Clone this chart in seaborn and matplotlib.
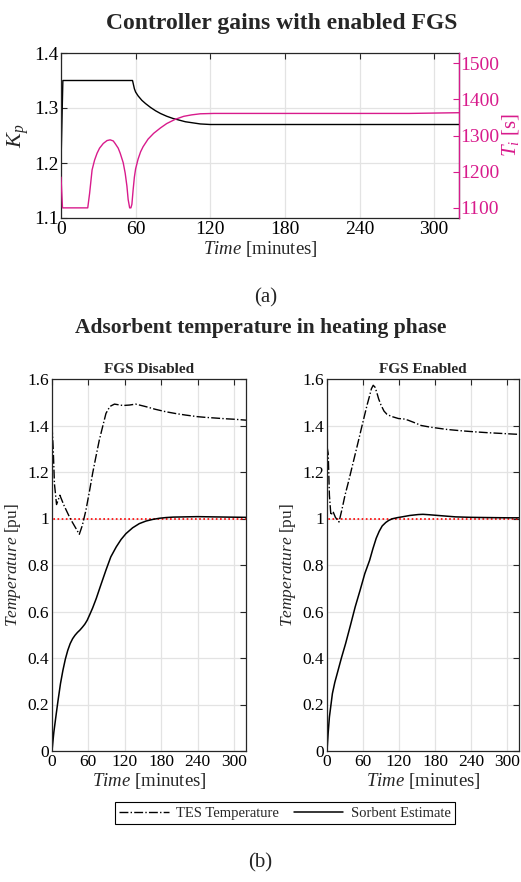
import numpy as np
import pandas as pd
import matplotlib
matplotlib.use('Agg')
from matplotlib import pyplot as plt
import seaborn as sns

# ---- datos ----
# (a) ganancias del controlador
kp_t = [0, 1.5, 10, 30, 50, 57.5, 58, 59, 60, 62, 65, 68, 72, 76, 80, 85, 90, 95, 100, 106, 112, 120, 200, 320]
kp_v = [1.20, 1.35, 1.35, 1.35, 1.35, 1.35, 1.345, 1.335, 1.329, 1.322, 1.314, 1.308, 1.301, 1.295, 1.29, 1.285,
        1.281, 1.278, 1.275, 1.273, 1.271, 1.27, 1.27, 1.27]

ti_t = [0, 1.2, 10, 21.5, 23, 25, 27, 29, 31, 34, 37, 39.5, 42, 43.5, 46, 47.6, 50, 51.6, 53, 54, 55.2, 56.2,
        57, 58, 59, 60, 62, 64, 66, 70, 74.5, 80, 85, 92, 98.7, 105, 112, 123, 200, 280, 300, 320]
ti_v = [1185, 1100, 1100, 1100, 1140, 1205, 1232, 1251, 1265, 1278, 1286, 1288, 1285, 1278, 1265, 1251, 1225,
        1196, 1160, 1123, 1100, 1100, 1110, 1150, 1185, 1208, 1235, 1255, 1269, 1290, 1306, 1321, 1333, 1345,
        1353, 1357, 1360, 1361, 1361, 1361, 1362, 1363]

# (b) temperatura del adsorbente
dis_tes_t = [0, 2, 4, 7.5, 13, 20, 30, 40, 45, 50, 56, 62, 67, 72, 78, 84, 89, 94, 97, 103, 110, 117, 128, 138,
             155, 170, 188, 205, 220, 240, 253, 270, 286, 300, 320]
dis_tes_v = [1.40, 1.30, 1.15, 1.06, 1.10, 1.055, 1.0, 0.955, 0.932, 0.97, 1.036, 1.12, 1.194, 1.26, 1.337, 1.40,
             1.452, 1.475, 1.484, 1.492, 1.489, 1.486, 1.488, 1.492, 1.481, 1.47, 1.459, 1.451, 1.445, 1.438,
             1.435, 1.432, 1.429, 1.427, 1.423]

dis_sorb_t = [0, 3, 7, 10, 14, 18, 22, 26, 30, 34, 38, 42, 46, 50, 54, 58, 62, 67, 73, 80, 89, 97, 106, 114,
              122, 133, 144, 155, 166, 177, 188, 200, 220, 240, 264, 290, 320]
dis_sorb_v = [0.0, 0.08, 0.16, 0.218, 0.29, 0.347, 0.395, 0.433, 0.462, 0.483, 0.498, 0.51, 0.52, 0.532, 0.545,
              0.562, 0.585, 0.615, 0.656, 0.71, 0.778, 0.835, 0.878, 0.91, 0.935, 0.96, 0.978, 0.989, 0.996,
              1.001, 1.004, 1.006, 1.007, 1.008, 1.007, 1.006, 1.005]

en_tes_t = [0, 2, 4, 6.5, 10, 14, 20, 25, 30, 36, 44, 52, 58, 63, 67, 71, 74, 77, 80, 83, 86, 90, 95, 100, 103,
            110, 119, 128, 135, 146, 157, 172, 186, 200, 225, 245, 268, 290, 311, 320]
en_tes_v = [1.31, 1.28, 1.10, 1.014, 1.03, 1.005, 0.985, 1.04, 1.10, 1.16, 1.245, 1.33, 1.395, 1.448, 1.49,
            1.528, 1.558, 1.573, 1.565, 1.542, 1.515, 1.488, 1.462, 1.448, 1.444, 1.437, 1.43, 1.428, 1.423,
            1.412, 1.40, 1.393, 1.388, 1.383, 1.377, 1.373, 1.369, 1.366, 1.363, 1.362]

en_sorb_t = [0, 2, 4, 9, 13, 17, 24, 31, 39, 47, 55, 63, 71, 76.5, 82, 87, 92, 98, 103, 109, 118, 125, 138, 152,
             160, 171, 190, 214, 240, 268, 300, 320]
en_sorb_v = [0.0, 0.08, 0.146, 0.247, 0.295, 0.333, 0.40, 0.462, 0.54, 0.62, 0.69, 0.763, 0.82, 0.87, 0.915,
             0.945, 0.968, 0.983, 0.992, 0.999, 1.004, 1.007, 1.013, 1.017, 1.018, 1.016, 1.012, 1.007, 1.005,
             1.004, 1.003, 1.003]

ref_t = [0, 0, 320]
ref_v = [0, 1, 1]

x_ticks = [0, 60, 120, 180, 240, 300]
magenta = '#D81B8C'
grid_col = '#e3e3e3'

sns.set_style('white')
plt.rcParams['font.family'] = ['Liberation Serif', 'DejaVu Serif']
plt.rcParams['mathtext.fontset'] = 'custom'
plt.rcParams['mathtext.rm'] = 'Liberation Serif'
plt.rcParams['mathtext.it'] = 'Liberation Serif:italic'
plt.rcParams['mathtext.bf'] = 'Liberation Serif:bold'


def style_axes(ax, ylim, yticks, yticklabels, fs):
    ax.set_xlim(0, 320)
    ax.set_ylim(*ylim)
    ax.set_xticks(x_ticks)
    ax.set_yticks(yticks)
    ax.set_yticklabels(yticklabels)
    ax.grid(True, color=grid_col, lw=0.9)
    ax.set_axisbelow(True)
    for s in ax.spines.values():
        s.set_visible(True)
        s.set_color('#262626')
        s.set_linewidth(0.9)
    ax.tick_params(direction='in', length=4, width=0.8, labelsize=fs, pad=2,
                   top=True, right=True, colors='#262626', labelcolor='black')
    ax.set_xlabel(r'$\mathit{Time}$ [minutes]', fontsize=13.5, labelpad=1)


fig = plt.figure(figsize=(5.21, 8.82), dpi=100)

# ---- (a) ----
ax1 = fig.add_axes([61 / 521, 1 - 218 / 882, 398 / 521, 165 / 882])
df_kp = pd.DataFrame({'t': kp_t, 'kp': kp_v})
sns.lineplot(data=df_kp, x='t', y='kp', ax=ax1, color='black', lw=1.0, estimator=None, sort=False)
style_axes(ax1, (1.1, 1.4), [1.1, 1.2, 1.3, 1.4], ['1.1', '1.2', '1.3', '1.4'], 14)
ax1.tick_params(right=False)
ax1.set_ylabel(r'$K_p$', fontsize=16, labelpad=2)

ax2 = ax1.twinx()
df_ti = pd.DataFrame({'t': ti_t, 'ti': ti_v})
sns.lineplot(data=df_ti, x='t', y='ti', ax=ax2, color=magenta, lw=1.0, estimator=None, sort=False)
ax2.set_ylim(1072, 1528)
ax2.set_yticks([1100, 1200, 1300, 1400, 1500])
ax2.set_xlim(0, 320)
ax2.tick_params(axis='y', direction='in', length=4, width=0.8, labelsize=14, pad=1,
                colors=magenta, labelcolor=magenta)
for s in ['top', 'left', 'bottom']:
    ax2.spines[s].set_visible(False)
ax2.spines['right'].set_color(magenta)
ax2.spines['right'].set_linewidth(0.9)
ax2.set_ylabel(r'$T_i$ [s]', fontsize=15, color=magenta, labelpad=0)
ax2.yaxis.set_label_position('right')
ax2.set_xlabel('')

fig.text(282 / 521, 1 - 23 / 882, 'Controller gains with enabled FGS', ha='center', va='center',
         fontsize=17, fontweight='bold')
fig.text(266 / 521, 1 - 298 / 882, '(a)', ha='center', va='center', fontsize=15)

# ---- (b) ----
fig.text(261 / 521, 1 - 328 / 882, 'Adsorbent temperature in heating phase', ha='center', va='center',
         fontsize=15.5, fontweight='bold')

panels = [
    ([52 / 521, 131 / 882, 194 / 521, 372 / 882], 'FGS Disabled', dis_tes_t, dis_tes_v, dis_sorb_t, dis_sorb_v),
    ([327 / 521, 131 / 882, 192 / 521, 372 / 882], 'FGS Enabled', en_tes_t, en_tes_v, en_sorb_t, en_sorb_v),
]
for pos, title, tt, tv, st, sv in panels:
    ax = fig.add_axes(pos)
    sns.lineplot(x=ref_t, y=ref_v, ax=ax, color='red', lw=1.2, linestyle=(0, (1, 1.5)),
                 estimator=None, sort=False)
    sns.lineplot(x=tt, y=tv, ax=ax, color='black', lw=1.0, linestyle='-.', estimator=None, sort=False,
                 label='TES Temperature', legend=False)
    sns.lineplot(x=st, y=sv, ax=ax, color='black', lw=1.1, estimator=None, sort=False,
                 label='Sorbent Estimate', legend=False)
    style_axes(ax, (0, 1.6), [0, 0.2, 0.4, 0.6, 0.8, 1.0, 1.2, 1.4, 1.6],
               ['0', '0.2', '0.4', '0.6', '0.8', '1', '1.2', '1.4', '1.6'], 12.5)
    ax.set_ylabel(r'$\mathit{Temperature}$ [pu]', fontsize=12.5, labelpad=3)
    ax.set_title(title, fontsize=11, fontweight='bold', pad=4)
    handles, labels = ax.get_legend_handles_labels()

leg = fig.legend(handles, labels, loc='center', ncol=2, bbox_to_anchor=(285 / 521, 1 - 813 / 882),
                 fontsize=10.5, frameon=True, fancybox=False, edgecolor='black', framealpha=1,
                 handlelength=3.4, handletextpad=0.5, columnspacing=1.0, borderpad=0.3)
leg.get_frame().set_linewidth(0.8)

fig.text(260 / 521, 1 - 863 / 882, '(b)', ha='center', va='center', fontsize=15)

fig.savefig('out.png', dpi=100)
